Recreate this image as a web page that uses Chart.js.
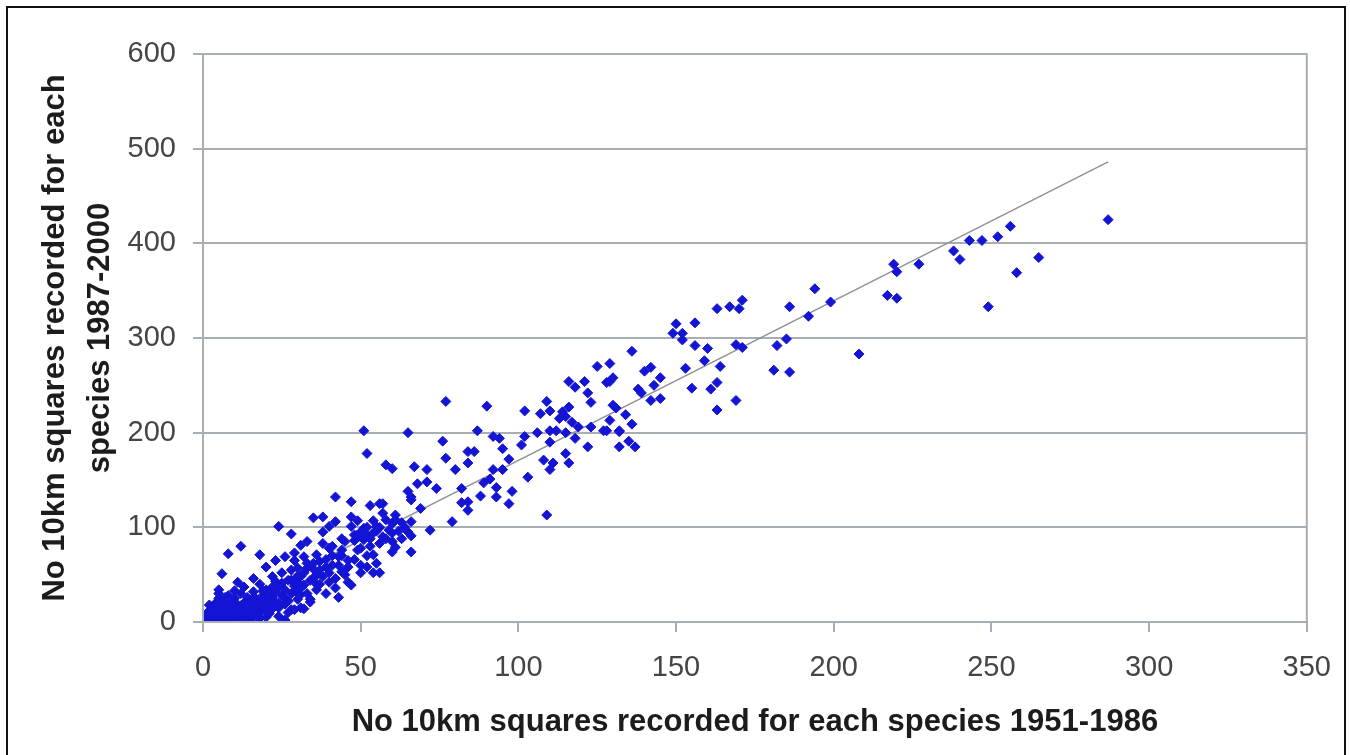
<!DOCTYPE html>
<html>
<head>
<meta charset="utf-8">
<script src="https://cdn.jsdelivr.net/npm/chart.js@4.4.0/dist/chart.umd.min.js"></script>
<style>
  body { margin: 0; background: #fff; }
  #wrap { position: relative; width: 1350px; height: 755px; overflow: hidden; }
  #frame { position: absolute; left: 6px; top: 6px; width: 1336px; height: 800px; border: 2px solid #111; }
  canvas { position: absolute; left: 0; top: 0; }
</style>
</head>
<body>
<div id="wrap">
  <canvas id="myChart" width="1350" height="755"></canvas>
  <div id="frame"></div>
</div>
<script>
// species counts: 10km squares 1951-1986 (x) vs 1987-2000 (y)
const squares1951 = [
  287, 256, 252, 247, 243, 238, 240, 265, 258, 249, 219, 220, 227, 217, 220, 208,
  194, 199, 186, 192, 171, 167, 170, 163, 150, 156, 149, 152, 152, 156, 160, 169, 171, 182, 185,
  136, 129, 130, 128, 140, 142, 145, 143, 138, 139, 142, 145, 153, 159, 164, 155, 161, 163, 169, 163,
  181, 186, 130, 131, 134, 129, 136, 127, 128, 132, 135, 132, 137,
  77, 90, 102, 109, 107, 110, 65, 87, 76, 92, 94, 102, 106, 110, 112, 110, 95, 101, 84, 86,
  77, 97, 84, 108, 111, 110, 116, 115, 58, 60, 67, 71, 80, 92, 95, 103, 91, 89, 71, 68,
  74, 82, 93, 98, 65, 66, 66, 88, 93, 82, 84, 84, 97, 69, 57, 57, 61, 61, 66, 79, 109,
  56, 60, 65, 72, 56, 60, 61, 66, 60, 66, 56,
  116, 121, 129, 122, 123, 116, 115, 117, 119, 123, 132, 122, 118, 115, 113, 114, 125, 118,
  51, 52, 42, 47, 53, 56, 35, 38, 24,
  47, 49, 54, 42, 40, 38, 47, 51, 55, 59, 33, 31, 38, 45, 51, 40, 49, 54, 32, 36, 43, 46, 29,
  41, 50, 52, 33, 37, 44, 54, 31, 35, 40, 47, 32, 36, 43, 31, 34, 29, 30, 30,
  28, 12, 8, 18, 6, 20, 23, 26, 29, 16, 11, 5, 13, 22, 25, 28, 30, 26, 23, 28, 24,
  0.5, 1, 1, 1, 2, 2, 2, 3, 3, 3, 4, 4, 4, 4, 5, 5, 5, 5, 6, 6, 6, 6, 7, 7, 7, 7,
  8, 8, 8, 8, 9, 9, 9, 10, 10, 10, 10, 11, 11, 11, 12, 12, 12, 12, 13, 13, 13,
  14, 14, 14, 15, 15, 15, 16, 16, 16, 17, 17, 18, 18, 18, 19, 19, 20, 20, 20,
  21, 21, 22, 22, 22, 23, 24, 24, 25, 25, 26, 27, 27, 28, 28, 29, 30, 30, 31, 32,
  33, 33, 34, 35, 36, 37, 38, 39, 40, 41, 42, 43, 44, 45, 46, 48, 50, 50, 52, 55, 58,
  26, 27, 32, 20, 18, 15, 12,
  50, 52, 53, 54, 49, 48, 52, 55, 53, 50, 57, 62, 63, 64, 63, 58, 60,
  16, 17, 19, 21, 23, 24, 26, 29, 31, 34, 35, 37, 39, 42, 44, 46, 48, 39, 41, 36, 44,
  3, 6, 9, 2, 5, 8, 11, 14, 10, 7
]
const squares1987 = [
  425, 418, 407, 403, 403, 392, 383, 385, 369, 333, 378, 370, 378, 345, 342, 283,
  352, 338, 333, 323, 340, 333, 331, 331, 315, 316, 305, 305, 298, 292, 289, 293, 290, 292, 299,
  286, 273, 258, 253, 265, 269, 258, 250, 246, 242, 234, 236, 268, 276, 270, 247, 246, 253, 234, 224,
  266, 264, 229, 226, 219, 213, 209, 202, 202, 202, 191, 185, 185,
  233, 228, 223, 233, 220, 223, 200, 202, 191, 196, 194, 196, 200, 202, 202, 190, 183, 187, 180, 180,
  173, 172, 168, 171, 168, 161, 168, 178, 166, 162, 164, 161, 161, 161, 161, 153, 151, 147, 148, 146,
  141, 141, 142, 138, 138, 132, 129, 133, 132, 126, 127, 118, 125, 120, 125, 115, 113, 108, 106, 106, 113,
  100, 94, 95, 97, 83, 85, 79, 91, 74, 74, 52,
  254, 254, 254, 242, 232, 227, 217, 211, 206, 206, 201, 185, 194, 200, 215, 222, 270, 248,
  202, 178, 132, 127, 123, 125, 110, 111, 101,
  111, 107, 107, 106, 101, 95, 101, 99, 101, 97, 85, 81, 83, 85, 87, 78, 76, 71, 69, 71, 69, 65, 65,
  60, 60, 58, 57, 55, 53, 52, 48, 46, 42, 39, 39, 34, 26, 29, 21, 13, 42, 57,
  93, 80, 72, 71, 51, 58, 65, 69, 73, 46, 42, 34, 37, 37, 41, 44, 31, 25, 21, 13, 6,
  2, 1, 4, 8, 2, 6, 12, 3, 9, 15, 1, 5, 11, 20, 3, 8, 14, 25, 2, 6, 10, 18, 4, 9, 13, 22,
  1, 7, 16, 28, 5, 11, 20, 3, 9, 14, 25, 6, 12, 18, 2, 8, 15, 30, 5, 11, 20,
  9, 16, 26, 4, 12, 22, 8, 18, 32, 14, 24, 10, 20, 40, 16, 28, 12, 22, 34,
  18, 30, 14, 26, 48, 32, 20, 38, 28, 52, 34, 22, 44, 30, 55, 38, 24, 48, 36, 52,
  30, 62, 44, 56, 40, 64, 48, 58, 52, 70, 46, 60, 76, 50, 58, 66, 52, 90, 70, 62, 88,
  2, 10, 14, 5, 4, 1, 0.5,
  95, 92, 88, 94, 92, 86, 100, 96, 80, 78, 90, 96, 88, 100, 105, 108, 104,
  26, 6, 33, 9, 43, 15, 19, 33, 15, 24, 62, 40, 66, 36, 88, 42, 92, 30, 80, 50, 70,
  12, 20, 6, 18, 30, 3, 17, 10, 33, 26
]
const trendX = [0, 287]
const trendY = [2, 486]

const xTicks = [0, 50, 100, 150, 200, 250, 300, 350]
const yTicks = [0, 100, 200, 300, 400, 500, 600]

const gridGrey = '#a7aeb4'
const fontFamily = '"Liberation Sans", Arial, sans-serif'

const points = squares1951.map((v, i) => ({ x: v, y: squares1987[i] }))
const trend = trendX.map((v, i) => ({ x: v, y: trendY[i] }))

const plotBorder = {
  id: 'plotBorder',
  afterDatasetsDraw(chart) {
    const { ctx, chartArea } = chart
    ctx.save()
    ctx.strokeStyle = gridGrey
    ctx.lineWidth = 2
    ctx.strokeRect(chartArea.left, chartArea.top, chartArea.right - chartArea.left, chartArea.bottom - chartArea.top)
    ctx.restore()
  },
}

const ctx = document.getElementById('myChart').getContext('2d')
new Chart(ctx, {
  type: 'scatter',
  data: {
    datasets: [
      {
        label: 'trend',
        data: trend,
        type: 'line',
        showLine: true,
        borderColor: '#8d9399',
        borderWidth: 1.5,
        pointRadius: 0,
        order: 2,
      },
      {
        label: 'species',
        data: points,
        pointStyle: 'rectRot',
        pointRadius: 5,
        backgroundColor: '#1414d4',
        borderColor: '#1414d4',
        borderWidth: 1,
        order: 1,
      },
    ],
  },
  options: {
    responsive: false,
    devicePixelRatio: 1,
    animation: false,
    layout: { padding: { top: 54, right: 41, left: 0, bottom: 0 } },
    plugins: { legend: { display: false }, tooltip: { enabled: false } },
    scales: {
      x: {
        type: 'linear',
        min: 0,
        max: 350,
        afterBuildTicks: (scale) => { scale.ticks = xTicks.map((v) => ({ value: v })) },
        afterFit: (scale) => { scale.height = 133 },
        ticks: { color: '#454545', font: { family: fontFamily, size: 29 }, padding: 19, maxRotation: 0 },
        grid: { drawOnChartArea: false, tickLength: 10, color: gridGrey, lineWidth: 2 },
        border: { color: gridGrey, width: 2 },
        title: {
          display: true,
          text: 'No 10km squares recorded for each species 1951-1986',
          color: '#1c1c1c',
          font: { family: fontFamily, size: 31, weight: 'bold' },
          padding: { top: 0, bottom: 14 },
        },
      },
      y: {
        min: 0,
        max: 600,
        afterBuildTicks: (scale) => { scale.ticks = yTicks.map((v) => ({ value: v })) },
        afterFit: (scale) => { scale.width = 203 },
        ticks: { color: '#454545', font: { family: fontFamily, size: 29 }, padding: 17 },
        grid: { tickLength: 10, color: gridGrey, lineWidth: 2 },
        border: { color: gridGrey, width: 2 },
        title: {
          display: true,
          text: ['No 10km squares recorded for each', 'species 1987-2000'],
          color: '#1c1c1c',
          font: { family: fontFamily, size: 31, weight: 'bold', lineHeight: 1.45 },
          padding: { top: 33, bottom: 0 },
        },
      },
    },
  },
  plugins: [plotBorder],
})
</script>
</body>
</html>
